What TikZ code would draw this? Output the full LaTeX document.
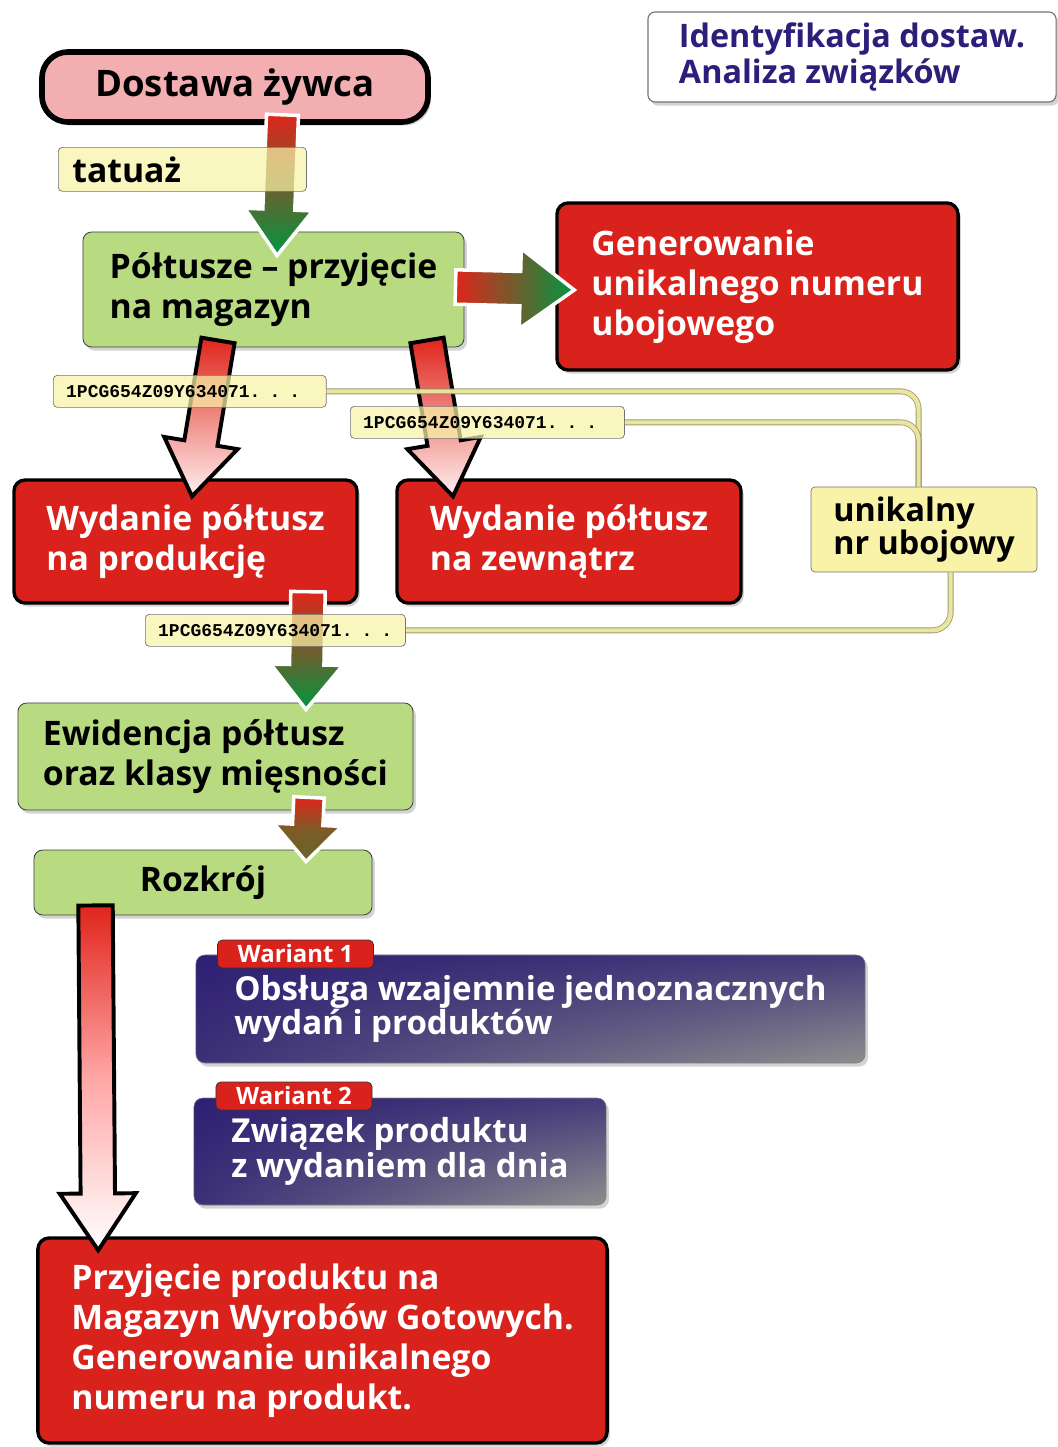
\documentclass[tikz,border=0pt]{standalone}
\usepackage{fontspec}
\setmainfont{Open Sans}
\newfontfamily\codefont{Liberation Mono}
\usetikzlibrary{positioning,calc,shadows,shadings}

\definecolor{boxred}{HTML}{D9221C}
\definecolor{boxpink}{HTML}{F2AEB0}
\definecolor{boxgreen}{HTML}{B8DA80}
\definecolor{boxyellow}{HTML}{F8F3A8}
\definecolor{boxblue}{HTML}{2E1F73}
\definecolor{boxgray}{HTML}{8E8E8E}
\definecolor{arrgreen}{HTML}{009640}
\definecolor{arrred}{HTML}{E0251B}
\definecolor{arrolive}{HTML}{7E5A26}
\definecolor{titleblue}{HTML}{2B1F7A}
\definecolor{connline}{HTML}{8C8A5C}

\newcommand{\mainsize}{\bfseries\fontsize{24}{28.4}\selectfont}
\newcommand{\bigsize}{\bfseries\fontsize{26}{30}\selectfont}
\newcommand{\titlesize}{\bfseries\fontsize{23}{25.5}\selectfont}
\newcommand{\notesize}{\bfseries\fontsize{23}{22}\selectfont}
\newcommand{\bluesize}{\bfseries\fontsize{23.5}{23.4}\selectfont}
\newcommand{\tagsize}{\bfseries\fontsize{17}{18}\selectfont}
\newcommand{\codesize}{\codefont\bfseries\fontsize{12.8}{14}\selectfont}

% block arrow: [style] start, tip, shaft half width, head half width, head length
\newcommand{\blockarrow}[6][]{%
  \coordinate (ba-h) at ($(#3)!#6!(#2)$);
  \path[#1] ($(#2)!#4!90:(#3)$) -- ($(ba-h)!#4!90:(#3)$) -- ($(ba-h)!#5!90:(#3)$) -- (#3)
    -- ($(ba-h)!#5!-90:(#3)$) -- ($(ba-h)!#4!-90:(#3)$) -- ($(#2)!#4!-90:(#3)$) -- cycle;
}

\tikzset{
  box/.style={inner sep=0pt, align=left, font=\mainsize,
    drop shadow={shadow xshift=0.07cm, shadow yshift=-0.09cm, opacity=0.35}},
  redbox/.style={box, fill=boxred, draw=black, line width=2.4pt, rounded corners=0.28cm, text=white},
  greenbox/.style={box, fill=boxgreen, draw=black!75, line width=0.6pt, rounded corners=0.22cm},
  bluebox/.style={box, draw=black!50, line width=0.4pt, rounded corners=0.22cm,
    upper left=boxblue, upper right=boxblue!75!boxgray, lower left=boxblue!85!boxgray,
    lower right=boxgray, text=white, font=\bluesize},
  tagbox/.style={fill=boxred, draw=black!80, line width=0.5pt, rounded corners=0.12cm,
    text=white, inner sep=0pt, font=\tagsize, minimum width=3.9cm, minimum height=0.7cm},
  notebox/.style={fill=boxyellow, fill opacity=0.72, text opacity=1, draw=black!55,
    line width=0.5pt, rounded corners=0.1cm, inner sep=0pt},
  codebox/.style={notebox, font=\codesize, anchor=north west, minimum height=0.8cm,
    inner xsep=0.32cm, align=left},
  conn/.style={draw=connline, line width=0.6pt, double=boxyellow, double distance=3pt,
    rounded corners=0.45cm, opacity=0.85},
  redarrow/.style={draw=black, line width=2.8pt, top color=arrred, bottom color=red!6},
  greenarrow/.style={draw=white, line width=2.5pt, top color=arrred, middle color=arrolive,
    bottom color=arrgreen},
}

\begin{document}
\begin{tikzpicture}[x=0.025cm, y=-0.025cm]
\useasboundingbox (0,0) rectangle (1058,1447);

% boxes
\node[box, fill=boxpink, draw=black, line width=4pt, rounded corners=0.65cm, font=\bigsize,
  minimum width=9.65cm, minimum height=1.75cm] at (235,87) (dost) {Dostawa żywca};
\node[greenbox, minimum width=9.525cm, minimum height=2.875cm] at (273.5,289.5) (polt)
  {Półtusze – przyjęcie\\na magazyn};
\node[redbox, minimum width=10.025cm, minimum height=4.175cm] at (757.5,286.5) (gen)
  {Generowanie\\unikalnego numeru\\ubojowego};
\node[redbox, minimum width=8.575cm, minimum height=3.075cm] at (185.5,541.5) (wyd1)
  {Wydanie półtusz\\na produkcję};
\node[redbox, minimum width=8.6cm, minimum height=3.075cm] at (569,541.5) (wyd2)
  {Wydanie półtusz\\na zewnątrz};
\node[notebox, fill opacity=1, font=\notesize, align=left, minimum width=5.65cm,
  minimum height=2.125cm] at (924,529.5) (unik) {unikalny\\nr ubojowy};
\node[greenbox, minimum width=9.875cm, minimum height=2.675cm] at (215.5,756.5) (ewid)
  {Ewidencja półtusz\\oraz klasy mięsności};
\node[greenbox, minimum width=8.45cm, minimum height=1.625cm] at (203,882.5) (rozk) {Rozkrój};
\node[bluebox, minimum width=16.725cm, minimum height=2.7cm] at (530.5,1009) (war1)
  {Obsługa wzajemnie jednoznacznych\\wydań i produktów};
\node[bluebox, minimum width=10.3cm, minimum height=2.675cm] at (400,1151.5) (war2)
  {Związek produktu\\z wydaniem dla dnia};
\node[redbox, minimum width=14.225cm, minimum height=5.125cm] at (322.5,1340.5) (przy)
  {Przyjęcie produktu na\\Magazyn Wyrobów Gotowych.\\Generowanie unikalnego\\numeru na produkt.};
\node[box, fill=white, draw=black!55, line width=0.8pt, rounded corners=0.18cm, text=titleblue,
  font=\titlesize, minimum width=10.2cm, minimum height=2.25cm] at (852,57) (tytul)
  {Identyfikacja dostaw.\\Analiza związków};

% arrows
\coordinate (a1s) at ($(dost.south)+(47.5,-10)$);
\coordinate (a1t) at ($(polt.north)+(3.5,24)$);
\blockarrow[greenarrow]{a1s}{a1t}{0.4cm}{0.85cm}{1.15cm}
\coordinate (a2s) at ($(polt.east)+(-9,-2.5)$);
\coordinate (a2t) at ($(gen.west)+(19,3.5)$);
\blockarrow[greenarrow, left color=arrred, middle color=arrolive, right color=arrgreen]{a2s}{a2t}{0.43cm}{1.0cm}{1.35cm}
\coordinate (a3s) at ($(polt.south)+(-55.5,-7)$);
\coordinate (a3t) at ($(wyd1.north)+(6.5,18)$);
\blockarrow[redarrow]{a3s}{a3t}{0.42cm}{0.93cm}{1.35cm}
\coordinate (a4s) at ($(polt.south)+(153.5,-7)$);
\coordinate (a4t) at ($(wyd2.north)+(-116,18)$);
\blockarrow[redarrow]{a4s}{a4t}{0.42cm}{0.93cm}{1.35cm}
\coordinate (a5s) at ($(wyd1.south)+(122.5,-13)$);
\coordinate (a5t) at ($(ewid.north)+(90.5,7)$);
\blockarrow[greenarrow]{a5s}{a5t}{0.43cm}{0.9cm}{1.12cm}
\coordinate (a6s) at ($(ewid.south)+(93.5,-13)$);
\coordinate (a6t) at ($(rozk.north)+(103,12)$);
\blockarrow[greenarrow, bottom color=arrolive!80!arrgreen, middle color=arrolive]{a6s}{a6t}{0.38cm}{0.85cm}{0.92cm}
\coordinate (a7s) at ($(rozk.south west)+(62,-10)$);
\coordinate (a7t) at ($(przy.north west)+(62,14)$);
\blockarrow[redarrow, bottom color=white, middle color=red!35]{a7s}{a7t}{0.43cm}{0.95cm}{1.42cm}

% labels
\node[notebox, font=\mainsize, anchor=north west, minimum height=1.1cm, text width=5.5cm,
  inner xsep=0.35cm, align=left] at (58,147) (tat) {tatuaż};
\node[codebox, text width=6.18cm] at (53,375) (lab1) {1PCG654Z09Y634071. . .};
\node[codebox, text width=6.21cm] at (350,406) (lab2) {1PCG654Z09Y634071. . .};
\node[codebox, text width=5.86cm] at (145,614) (lab3) {1PCG654Z09Y634071. . .};

% connectors to the number
\coordinate (jn) at ($(unik.north west)+(108,0)$);
\coordinate (jb) at ($(unik.south west)+(140,0)$);
\draw[conn] (lab1.east) -| (jn);
\draw[conn] (lab2.east) -| (jn);
\draw[conn] (lab3.east) -| (jb);

% variant tags
\node[tagbox] at (295.5,954) (tag1) {Wariant 1};
\node[tagbox] at (294,1096) (tag2) {Wariant 2};
\end{tikzpicture}
\end{document}
